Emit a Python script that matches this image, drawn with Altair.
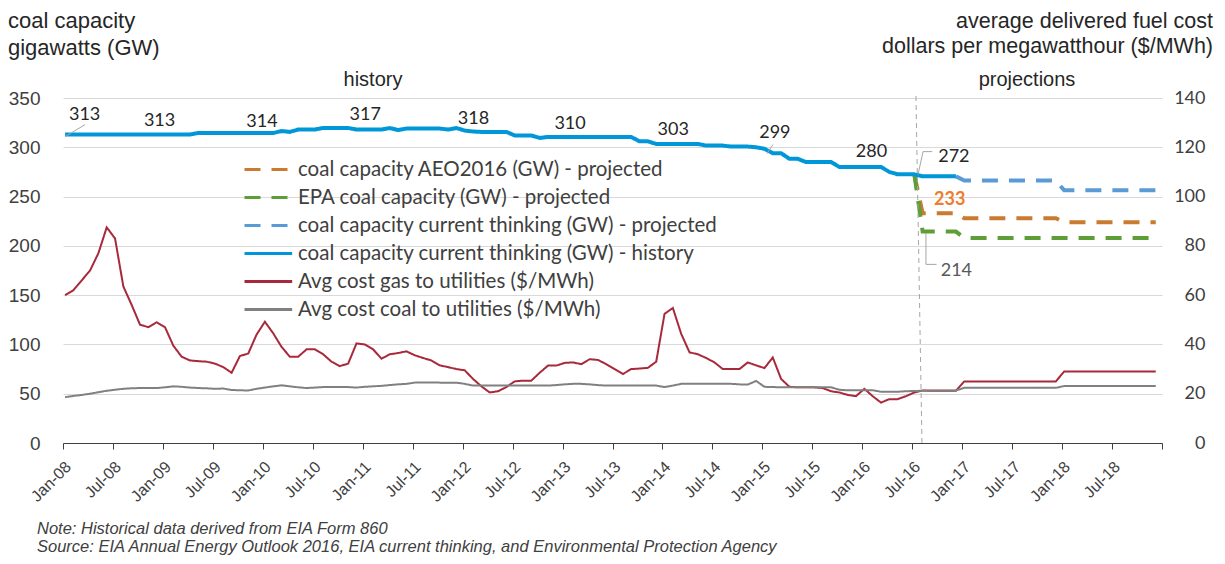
import json
import altair as alt
import pandas as pd

# ---------------- data (month index 0 = Jan-2008) ----------------
tick_labels = ["Jan-08", "Jul-08", "Jan-09", "Jul-09", "Jan-10", "Jul-10", "Jan-11", "Jul-11",
               "Jan-12", "Jul-12", "Jan-13", "Jul-13", "Jan-14", "Jul-14", "Jan-15", "Jul-15",
               "Jan-16", "Jul-16", "Jan-17", "Jul-17", "Jan-18", "Jul-18"]
tick_values = [0, 6, 12, 18, 24, 30, 36, 42, 48, 54, 60, 66, 72, 78, 84, 90, 96, 102, 108, 114, 120, 126, 132]
left_ticks = [0, 50, 100, 150, 200, 250, 300, 350]
right_ticks = [0, 20, 40, 60, 80, 100, 120, 140]

S_AEO = "coal capacity AEO2016 (GW) - projected"
S_EPA = "EPA coal capacity (GW) - projected"
S_CUR = "coal capacity current thinking (GW) - projected"
S_HIS = "coal capacity current thinking (GW) - history"
S_GAS = "Avg cost gas to utilities ($/MWh)"
S_COAL = "Avg cost coal to utilities ($/MWh)"
series_order = [S_AEO, S_EPA, S_CUR, S_HIS, S_GAS, S_COAL]
series_colors = ["#C97B30", "#5E9E36", "#5B9BD5", "#0097D8", "#A8293A", "#808080"]
series_dash = [[16, 11], [16, 11], [16, 11], [1, 0], [1, 0], [1, 0]]

# coal capacity history (GW), Jan-08 .. Dec-16
cap_history = [313, 313, 313, 313, 313, 313, 313, 313, 313, 313,
               313, 313, 313, 313, 313, 313, 314.5, 314.5, 314.5, 314.5,
               314.5, 314.5, 314.5, 314.5, 314.5, 314.5, 316.5, 315.6, 318, 318,
               318, 319.6, 319.6, 319.6, 319.6, 318, 318, 318, 318, 319.5,
               317.5, 319, 319, 319, 319, 319, 318, 319.5, 317, 316,
               315.6, 315.6, 315.6, 315.6, 312, 312, 312, 309.5, 310.5, 310.5,
               310.5, 310.5, 310.5, 310.5, 310.5, 310.5, 310.5, 310.5, 310.5, 306,
               306, 303.4, 303.4, 303.4, 303.4, 303.4, 303.4, 301.7, 301.7, 301.7,
               300.7, 300.7, 300.7, 300, 298.5, 294, 294, 288.3, 288.3, 285,
               285, 285, 285, 280, 280, 280, 280, 280, 280, 275,
               272.6, 272.6, 272.6, 270.5, 270.5, 270.5, 270.5, 270.5]
# projections (GW)
cap_current_start = 107
cap_current = [270.5, 266.3, 266.3, 266.3, 266.3, 266.3, 266.3, 266.3, 266.3, 266.3,
               266.3, 266.3, 266.3, 256.3, 256.3, 256.3, 256.3, 256.3, 256.3, 256.3,
               256.3, 256.3, 256.3, 256.3, 256.3]
cap_aeo_start = 102
cap_aeo = [272.6, 233, 233, 233, 233, 233, 228, 228, 228, 228,
           228, 228, 228, 228, 228, 228, 228, 228, 224, 224,
           224, 224, 224, 224, 224, 224, 224, 224, 224, 224]
cap_epa_start = 102
cap_epa = [272.6, 214.5, 214.5, 214.5, 214.5, 214.5, 208, 208, 208, 208,
           208, 208, 208, 208, 208, 208, 208, 208, 208, 208,
           208, 208, 208, 208, 208, 208, 208, 208, 208, 208]

# average delivered fuel cost ($/MWh), Jan-08 .. Dec-18
gas_cost = [60, 62, 66, 70, 77, 87.5, 83, 63.5, 56, 48,
            47, 49, 47, 39.5, 35, 33.5, 33.2, 33, 32.2, 30.8,
            28.5, 35.3, 36.3, 44, 49.2, 44.5, 39, 35, 35, 38,
            38, 36, 33, 31.2, 32.2, 40.4, 40, 38, 34.2, 36,
            36.5, 37.2, 35.6, 34.5, 33.5, 31.5, 30.8, 30, 29.5, 26,
            23, 20.5, 21, 22.7, 25, 25.3, 25.3, 28.5, 31.4, 31.4,
            32.5, 32.7, 32, 34, 33.7, 32, 30, 28, 30, 30.2,
            30.5, 33, 52.4, 54.8, 44.3, 36.8, 36, 34.5, 32.7, 30,
            30, 30, 32.7, 31.5, 30.4, 34.7, 26, 22.8, 22.6, 22.6,
            22.6, 22.3, 21, 20.5, 19.5, 19, 22, 19, 16.4, 17.8,
            17.8, 19, 20.5, 21.3, 21.2, 21.2, 21.2, 21.2, 25, 25,
            25, 25, 25, 25, 25, 25, 25, 25, 25, 25,
            29, 29, 29, 29, 29, 29, 29, 29, 29, 29,
            29, 29]
coal_cost = [18.6, 19.1, 19.5, 20, 20.6, 21.2, 21.6, 22, 22.2, 22.3,
             22.3, 22.3, 22.6, 23, 22.8, 22.5, 22.3, 22.2, 22, 22.1,
             21.5, 21.4, 21.3, 22, 22.5, 23, 23.4, 23, 22.6, 22.3,
             22.5, 22.7, 22.7, 22.7, 22.7, 22.5, 22.8, 23, 23.2, 23.5,
             23.8, 24, 24.5, 24.6, 24.6, 24.5, 24.5, 24.5, 24, 23.3,
             23.3, 23.3, 23.3, 23.3, 23.3, 23.3, 23.3, 23.3, 23.3, 23.5,
             23.8, 24, 24, 23.8, 23.5, 23.3, 23.3, 23.3, 23.3, 23.3,
             23.3, 23.3, 22.7, 23.3, 24, 24, 24, 24, 24, 24,
             24, 23.8, 23.7, 25.2, 22.8, 22.7, 22.6, 22.6, 22.6, 22.6,
             22.6, 22.6, 22.6, 21.6, 21.4, 21.4, 21.4, 21.4, 20.8, 20.8,
             20.8, 21, 21.1, 21.2, 21.3, 21.3, 21.3, 21.3, 22.4, 22.4,
             22.4, 22.4, 22.4, 22.4, 22.4, 22.4, 22.4, 22.4, 22.4, 22.4,
             23.1, 23.1, 23.1, 23.1, 23.1, 23.1, 23.1, 23.1, 23.1, 23.1,
             23.1, 23.1]

# data labels (month position, GW value)
label_text = ["313", "313", "314", "317", "318", "310", "303", "299", "280", "272", "214"]
label_x = [2.6, 11.6, 23.9, 36.3, 49.3, 60.9, 73.3, 85.5, 97.1, 107.0, 107.3]
label_y = [333, 327, 326, 333, 329, 324, 318, 315, 295, 290, 175]
label_color = ["#262626"] * 10 + ["#595959"]
highlight_text = ["233"]
highlight_x = [106.5]
highlight_y = [247]

# leader lines
leader_id = ["a", "a", "b", "b", "c", "c", "c", "d", "d", "d"]
leader_x = [0.24, 2.64, 84.55, 85.27, 102.7, 103.3, 104.4, 103.65, 103.65, 104.93]
leader_y = [310.8, 322.9, 293.6, 302.7, 272.4, 295.6, 295.6, 213.1, 181.2, 181.2]
leader_order = [0, 1, 0, 1, 0, 1, 2, 0, 1, 2]

# history / projections divider
divider_x = [102.45]
divider_x2 = [103.17]
divider_y = [352]
divider_y2 = [0]

title_left = ["coal capacity", "gigawatts (GW)"]
title_right = ["average delivered fuel cost", "dollars per megawatthour ($/MWh)"]
period_labels = ["history", "projections"]
notes = ["Note: Historical data derived from EIA Form 860",
         "Source: EIA Annual Energy Outlook 2016, EIA current thinking, and Environmental Protection Agency"]

# ---------------- tables ----------------
POINT_OFFSET = 0.25
rows = []


def add(series, start, values):
    for i, v in enumerate(values):
        rows.append({"series": series, "x": start + i + POINT_OFFSET, "value": v})


add(S_HIS, 0, cap_history)
add(S_CUR, cap_current_start, cap_current)
add(S_AEO, cap_aeo_start, cap_aeo)
add(S_EPA, cap_epa_start, cap_epa)
add(S_GAS, 0, gas_cost)
add(S_COAL, 0, coal_cost)
lines = pd.DataFrame(rows)

labels_df = pd.DataFrame({"x": label_x, "value": label_y, "text": label_text, "color": label_color})
hl_df = pd.DataFrame({"x": highlight_x, "value": highlight_y, "text": highlight_text})
leaders_df = pd.DataFrame({"id": leader_id, "x": leader_x, "value": leader_y, "order": leader_order})
divider_df = pd.DataFrame({"x": divider_x, "x2": divider_x2, "value": divider_y, "value2": divider_y2})

ARIAL = "Liberation Sans"
CAL = "Lato"

label_expr = "datum.value < 132 ? " + json.dumps(tick_labels) + "[round(datum.value / 6)] : ''"

X = alt.X("x:Q", title=None,
          scale=alt.Scale(domain=[0, 132], nice=False, zero=False),
          axis=alt.Axis(values=tick_values, labelExpr=label_expr, labelAngle=-45,
                        labelAlign="right", labelBaseline="middle", labelPadding=15,
                        labelOffset=5, labelFont=ARIAL, labelFontSize=16,
                        labelColor="#404040", tickSize=6, tickColor="#404040",
                        domainColor="#404040", grid=False, labelOverlap=False,
                        labelFlush=False, labelBound=False))
YL = alt.Y("value:Q", title=None,
           scale=alt.Scale(domain=[0, 350], nice=False, zero=True),
           axis=alt.Axis(values=left_ticks, orient="left", grid=True, gridColor="#D9D9D9",
                         gridWidth=1, domain=False, ticks=False, tickSize=0, labelPadding=23,
                         labelFont=ARIAL, labelFontSize=19, labelColor="#404040"))
YR = alt.Y("value:Q", title=None,
           scale=alt.Scale(domain=[0, 140], nice=False, zero=True),
           axis=alt.Axis(values=right_ticks, orient="right", grid=False, domain=False,
                         ticks=False, tickSize=0, labelAlign="right", labelPadding=43,
                         labelFont=CAL, labelFontSize=18, labelColor="#404040"))

legend = alt.Legend(title=None, orient="none", legendX=180, legendY=61, padding=0,
                    symbolType="M-1,0H4.3", symbolSize=324, labelOffset=34,
                    symbolStrokeWidth=3,
                    labelFont=CAL, labelFontSize=20.5, labelColor="#404040",
                    labelLimit=600, rowPadding=7)
COLOR = alt.Color("series:N", scale=alt.Scale(domain=series_order, range=series_colors), legend=legend)
DASH = alt.StrokeDash("series:N", scale=alt.Scale(domain=series_order, range=series_dash), legend=legend)


def series_layer(name, y, width):
    return (alt.Chart(lines)
            .transform_filter(alt.datum.series == name)
            .mark_line(strokeWidth=width)
            .encode(x=X, y=y, color=COLOR, strokeDash=DASH, order="x:Q"))


right_group = alt.layer(series_layer(S_GAS, YR, 2), series_layer(S_COAL, YR, 2))

divider = alt.Chart(divider_df).mark_rule(color="#A6A6A6", strokeDash=[5, 4], strokeWidth=1).encode(
    x=X, x2="x2:Q", y=YL, y2="value2:Q")
leaders = alt.Chart(leaders_df).mark_line(color="#A6A6A6", strokeWidth=1).encode(
    x=X, y=YL, detail="id:N", order="order:Q")
labels = alt.Chart(labels_df).mark_text(font=CAL, fontSize=18, align="center", baseline="middle").encode(
    x=X, y=YL, text="text:N", color=alt.Color("color:N", scale=None, legend=None))
hl = alt.Chart(hl_df).mark_text(font=CAL, fontSize=18, fontWeight="bold", color="#ED7D31",
                                align="center", baseline="middle").encode(x=X, y=YL, text="text:N")


def ptext(txt, px, py, align="left", size=20, font=ARIAL, style="normal", color="#262626"):
    return alt.Chart(pd.DataFrame({"t": [txt]})).mark_text(
        align=align, baseline="alphabetic", fontSize=size, font=font, fontStyle=style, color=color
    ).encode(x=alt.value(px), y=alt.value(py), text="t:N")


texts = [
    ptext(title_left[0], -55, -70, size=22),
    ptext(title_left[1], -55, -43, size=22),
    ptext(title_right[0], 1150, -70, align="right", size=21.5),
    ptext(title_right[1], 1150, -45, align="right", size=21.5),
    ptext(period_labels[0], 310, -12, align="center", size=20),
    ptext(period_labels[1], 964, -12, align="center", size=20),
    ptext(notes[0], -26, 436, size=16.5, style="italic", color="#404040"),
    ptext(notes[1], -26, 454, size=16.5, style="italic", color="#404040"),
]

left_group = alt.layer(
    series_layer(S_AEO, YL, 4),
    series_layer(S_EPA, YL, 4),
    series_layer(S_CUR, YL, 4),
    series_layer(S_HIS, YL, 4),
    divider, leaders, labels, hl, *texts,
)

chart = (alt.layer(right_group, left_group)
         .resolve_scale(y="independent")
         .properties(width=1099, height=345,
                     padding={"left": 55, "top": 90, "right": 55, "bottom": 113},
                     autosize=alt.AutoSizeParams(type="none"))
         .configure_view(stroke=None))

chart.save("out.html", embed_options={"renderer": "svg", "actions": False})
